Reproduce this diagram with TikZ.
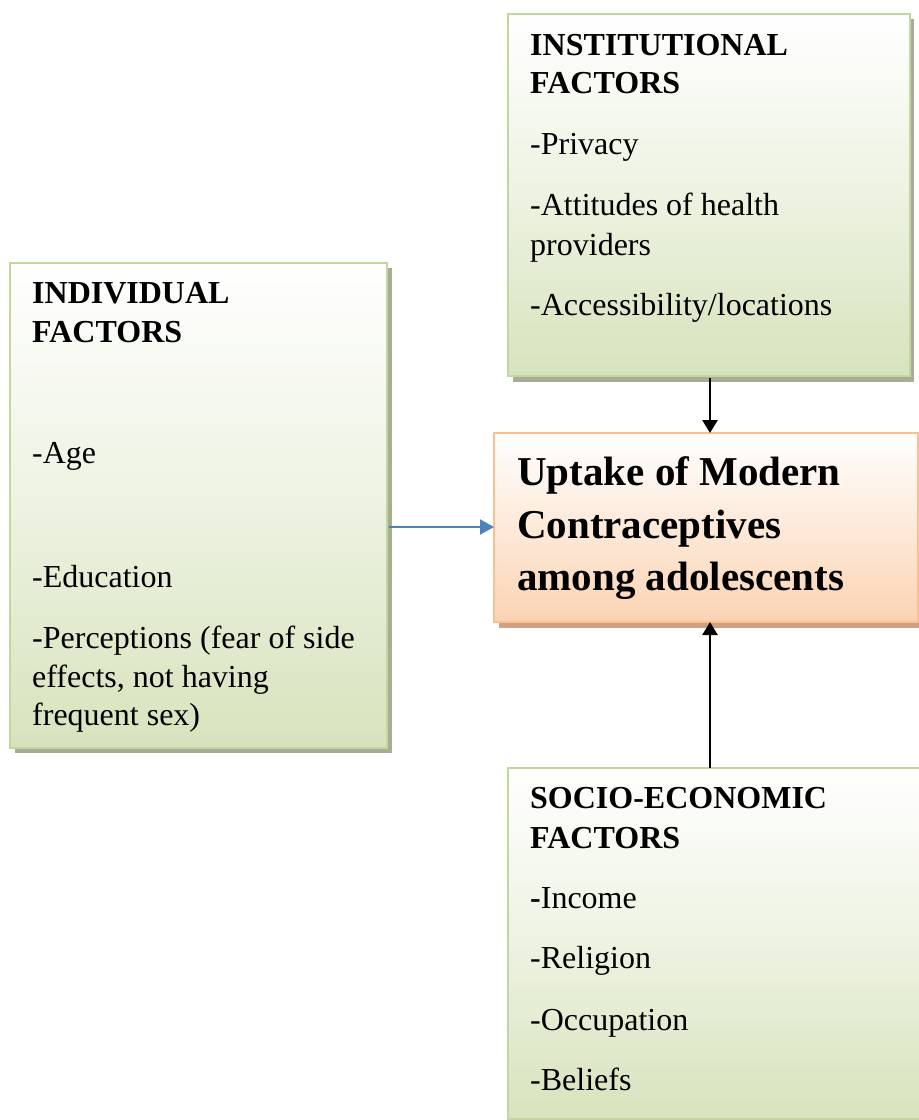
\documentclass[tikz,border=0pt]{standalone}
\usepackage{fontspec}
\setmainfont{Liberation Serif}
\usetikzlibrary{arrows.meta}
\definecolor{gbord}{HTML}{C3D69B}
\definecolor{gfill}{HTML}{D7E3BD}
\definecolor{gshad}{HTML}{A6AF95}
\definecolor{obord}{HTML}{FAC08F}
\definecolor{ofill}{HTML}{FBD3B3}
\definecolor{oshad}{HTML}{CCA283}
\definecolor{arrblue}{HTML}{4F81BD}
\tikzset{
  gbox/.style={draw=gbord, line width=2pt, top color=white, bottom color=gfill, middle color=white!55!gfill},
  obox/.style={draw=obord, line width=2pt, top color=white, bottom color=ofill},
  txt/.style={anchor=base west, inner sep=0pt, font=\fontsize{32}{36}\selectfont},
  htxt/.style={txt, font=\fontsize{32}{36}\selectfont\bfseries},
  ctxt/.style={anchor=base west, inner sep=0pt, font=\fontsize{41}{46}\selectfont\bfseries},
  blk/.style={line width=2.6pt, -{Triangle[length=13pt,width=15pt]}},
  blu/.style={line width=2pt, draw=arrblue, -{Triangle[length=14pt,width=15pt,fill=arrblue]}}
}
\begin{document}
\begin{tikzpicture}[x=1pt,y=-1pt]
\useasboundingbox (0,0) rectangle (919,1120);
% shadows
\fill[gshad] (513,19) rectangle (914,382);
\fill[gshad] (15,268) rectangle (392,753);
\fill[oshad] (499,438) rectangle (925,628);
% boxes
\path[gbox] (508,14) rectangle (910,376);
\coordinate (instb) at (710,378);
\path[gbox] (10,263) rectangle (387,748);
\coordinate (indr) at (389,527);
\path[obox] (494,433) rectangle (918,622);
\coordinate (ctop) at (710,433);
\coordinate (cbot) at (710,622);
\coordinate (cleft) at (494,527);
\path[gbox] (508,768) rectangle (925,1119);
\coordinate (soct) at (710,768);
% institutional text
\node[htxt] (i1) at (530,55) {INSTITUTIONAL};
\node[htxt] (i2) at (530,93) {FACTORS};
\node[txt] (i3) at (530,154) {-Privacy};
\node[txt] (i4) at (530,215) {-Attitudes of health};
\node[txt] (i5) at (530,255) {providers};
\node[txt] (i6) at (530,315) {-Accessibility/locations};
% individual text
\node[htxt] (d1) at (32,303) {INDIVIDUAL};
\node[htxt] (d2) at (32,342) {FACTORS};
\node[txt] (d3) at (32,463) {-Age};
\node[txt] (d4) at (32,587) {-Education};
\node[txt] (d5) at (32,648) {-Perceptions (fear of side};
\node[txt] (d6) at (32,687) {effects, not having};
\node[txt] (d7) at (32,725) {frequent sex)};
% central text
\node[ctxt] (c1) at (517,485) {Uptake of Modern};
\node[ctxt] (c2) at (517,538) {Contraceptives};
\node[ctxt] (c3) at (517,590) {among adolescents};
% socio text
\node[htxt] (s1) at (530,808) {SOCIO-ECONOMIC};
\node[htxt] (s2) at (530,848) {FACTORS};
\node[txt] (s3) at (530,908) {\textbf{-}Income};
\node[txt] (s4) at (530,968) {-Religion};
\node[txt] (s5) at (530,1030) {-Occupation};
\node[txt] (s6) at (530,1090) {-Beliefs};
% connectors
\draw[blk] (instb) -- (ctop);
\draw[blk] (soct) -- (cbot);
\draw[blu] (indr) -- (cleft);
\end{tikzpicture}
\end{document}
